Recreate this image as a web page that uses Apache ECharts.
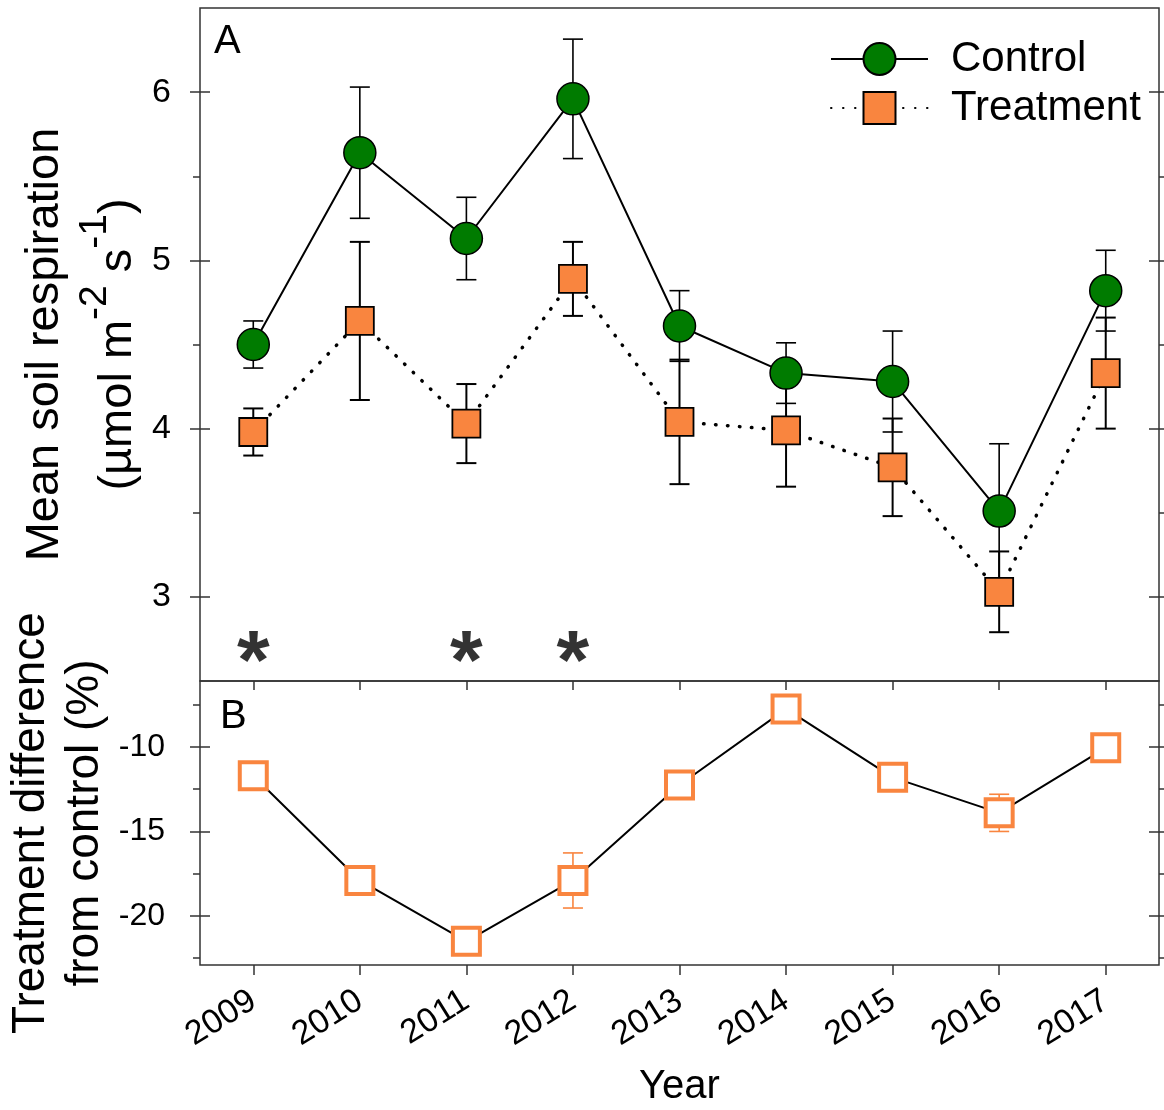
<!DOCTYPE html>
<html>
<head>
<meta charset="utf-8">
<script src="https://cdn.jsdelivr.net/npm/echarts@6/dist/echarts.min.js"></script>
<style>html,body{margin:0;padding:0;background:#fff;} #main{width:1164px;height:1110px;}</style>
</head>
<body>
<div id="main"></div>
<script>
// data
var years = ['2009', '2010', '2011', '2012', '2013', '2014', '2015', '2016', '2017'];
var controlMean = [4.50, 5.64, 5.13, 5.96, 4.61, 4.33, 4.28, 3.51, 4.82];
var controlErr = [0.14, 0.39, 0.245, 0.355, 0.21, 0.18, 0.30, 0.40, 0.24];
var treatMean = [3.98, 4.64, 4.03, 4.89, 4.04, 3.99, 3.77, 3.03, 4.33];
var treatErr = [0.14, 0.47, 0.235, 0.22, 0.37, 0.335, 0.29, 0.24, 0.33];
var diffMean = [-11.7, -17.9, -21.5, -17.9, -12.25, -7.75, -11.8, -13.9, -10.05];
var diffErr = [0, 0, 0, 1.63, 0, 0, 0, 1.1, 0];
var sigYears = ['2009', '2011', '2012'];
var sigLevel = 2.7;
var topTicks = [3, 4, 5, 6];
var topMinor = [3.5, 4.5, 5.5];
var bottomTicks = [-20, -15, -10];
var bottomMinor = [-22.5, -17.5, -12.5, -7.5];

var font = 'Liberation Sans, Arial, sans-serif';
var axisColor = '#333';
var green = '#007b00';
var orange = '#f9853f';

var myChart = echarts.init(document.getElementById('main'));

function makeYAxes(grid, min, max, major, minor, labelSize, labelMargin, name, nameGap, rich) {
    var base = {type: 'value', gridIndex: grid, min: min, max: max,
        splitLine: {show: false}, axisLine: {show: false}, axisLabel: {show: false}};
    function tick(pos, inside, len, values) {
        return Object.assign({}, base, {position: pos,
            axisTick: {show: true, inside: inside, length: len, customValues: values,
                lineStyle: {color: axisColor, width: 1.5}}});
    }
    var main = tick('left', false, 10, major);
    main.axisLabel = {show: true, customValues: major, fontSize: labelSize, margin: labelMargin,
        color: '#000', fontFamily: font};
    main.name = name;
    main.nameLocation = 'middle';
    main.nameRotate = 90;
    main.nameGap = nameGap;
    main.nameMoveOverlap = false;
    main.nameTextStyle = {fontSize: 47, color: '#000', fontFamily: font, rich: rich};
    return [main, tick('left', true, 10, major), tick('left', false, 7, minor),
        tick('right', false, 10, major), tick('right', true, 10, major), tick('right', false, 7, minor)];
}

function errorBars(color, width, capHalf) {
    return function (params, api) {
        var i = api.value(0), m = api.value(1), e = api.value(2);
        if (!e) return null;
        var hi = api.coord([i, m + e]);
        var lo = api.coord([i, m - e]);
        var st = {stroke: color, lineWidth: width};
        return {type: 'group', children: [
            {type: 'line', shape: {x1: hi[0], y1: hi[1], x2: lo[0], y2: lo[1]}, style: st},
            {type: 'line', shape: {x1: hi[0] - capHalf, y1: hi[1], x2: hi[0] + capHalf, y2: hi[1]}, style: st},
            {type: 'line', shape: {x1: lo[0] - capHalf, y1: lo[1], x2: lo[0] + capHalf, y2: lo[1]}, style: st}
        ]};
    };
}

var topRich = {
    b: {fontSize: 47, fontFamily: font, color: '#000', lineHeight: 62},
    a: {fontSize: 47, fontFamily: font, color: '#000', lineHeight: 85},
    s: {fontSize: 39, fontFamily: font, color: '#000', verticalAlign: 'top', lineHeight: 40}
};
var bottomRich = {
    a: {fontSize: 46, fontFamily: font, color: '#000', lineHeight: 54}
};

var yAxes = makeYAxes(0, 2.5, 6.5, topTicks, topMinor, 34, 29,
    '{b|Mean soil respiration}\n{a|(µmol m}{s|-2}{a| s}{s|-1}{a|)}', 39, topRich)
    .concat(makeYAxes(1, -22.9, -6.1, bottomTicks, bottomMinor, 32, 35,
    '{a|Treatment difference}\n{a|from control (%)}', 88, bottomRich));

var option = {
    backgroundColor: '#fff',
    animation: false,
    textStyle: {fontFamily: font},
    grid: [
        {left: 200, right: 5, top: 8, height: 673, show: true, borderColor: axisColor, borderWidth: 1.5, outerBoundsMode: 'none'},
        {left: 200, right: 5, top: 681, height: 284, show: true, borderColor: axisColor, borderWidth: 1.5, outerBoundsMode: 'none'}
    ],
    legend: {
        orient: 'vertical', left: 830, top: 38, padding: 0,
        itemWidth: 97, itemHeight: 40, itemGap: 7,
        data: ['Control', 'Treatment'],
        textStyle: {fontSize: 42, color: '#000', fontFamily: font, padding: [0, 0, 0, 18]}
    },
    graphic: [
        {type: 'text', left: 214, top: 22, style: {text: 'A', fontSize: 40, fill: '#000', fontFamily: font}},
        {type: 'text', left: 220, top: 697, style: {text: 'B', fontSize: 40, fill: '#000', fontFamily: font}}
    ],
    xAxis: [
        // ticks along the shared edge point down into panel B
        {type: 'category', gridIndex: 0, data: years, position: 'bottom',
            axisLine: {show: false, onZero: false},
            axisTick: {show: true, alignWithLabel: true, inside: false, length: 9, lineStyle: {color: axisColor, width: 1.5}},
            axisLabel: {show: false}},
        {type: 'category', gridIndex: 1, data: years, position: 'bottom',
            axisLine: {show: false, onZero: false},
            axisTick: {show: true, alignWithLabel: true, length: 10, lineStyle: {color: axisColor, width: 1.5}},
            axisLabel: {rotate: 32, fontSize: 34, margin: 33, color: '#000', fontFamily: font},
            name: 'Year', nameLocation: 'middle', nameGap: 102, nameMoveOverlap: false,
            nameTextStyle: {fontSize: 40, color: '#000', fontFamily: font}}
    ],
    yAxis: yAxes,
    series: [
        {name: 'ctrlErr', type: 'custom', xAxisIndex: 0, yAxisIndex: 0, z: 1,
            renderItem: errorBars('#000', 1.6, 10), encode: {x: 0, y: 1},
            data: years.map(function (y, i) { return [i, controlMean[i], controlErr[i]]; })},
        {name: 'treatErr', type: 'custom', xAxisIndex: 0, yAxisIndex: 0, z: 1,
            renderItem: errorBars('#000', 2, 10), encode: {x: 0, y: 1},
            data: years.map(function (y, i) { return [i, treatMean[i], treatErr[i]]; })},
        {name: 'Control', type: 'line', xAxisIndex: 0, yAxisIndex: 0, z: 3,
            data: controlMean, symbol: 'circle', symbolSize: 32,
            itemStyle: {color: green, borderColor: '#000', borderWidth: 1.5},
            lineStyle: {color: '#000', width: 2}},
        {name: 'Treatment', type: 'line', xAxisIndex: 0, yAxisIndex: 0, z: 2,
            data: treatMean, symbol: 'rect', symbolSize: 28,
            itemStyle: {color: orange, borderColor: '#000', borderWidth: 1.8},
            lineStyle: {color: '#000', width: 3.5, type: [0.5, 11.5], cap: 'round'}},
        {name: 'sig', type: 'scatter', xAxisIndex: 0, yAxisIndex: 0, z: 3,
            symbolSize: 0, silent: true,
            data: sigYears.map(function (y) { return [y, sigLevel]; }),
            label: {show: true, position: 'inside', formatter: '*', fontSize: 84, fontWeight: 'bold',
                color: '#000', textBorderWidth: 0, fontFamily: font, offset: [0, 18]}},
        {name: 'diffErr', type: 'custom', xAxisIndex: 1, yAxisIndex: 6, z: 1,
            renderItem: errorBars(orange, 1.6, 10), encode: {x: 0, y: 1},
            data: years.map(function (y, i) { return [i, diffMean[i], diffErr[i]]; })},
        {name: 'Difference', type: 'line', xAxisIndex: 1, yAxisIndex: 6, z: 2,
            data: diffMean, symbol: 'rect', symbolSize: 27,
            itemStyle: {color: '#fff', borderColor: orange, borderWidth: 4},
            lineStyle: {color: '#000', width: 2}}
    ]
};
myChart.setOption(option);
</script>
</body>
</html>
